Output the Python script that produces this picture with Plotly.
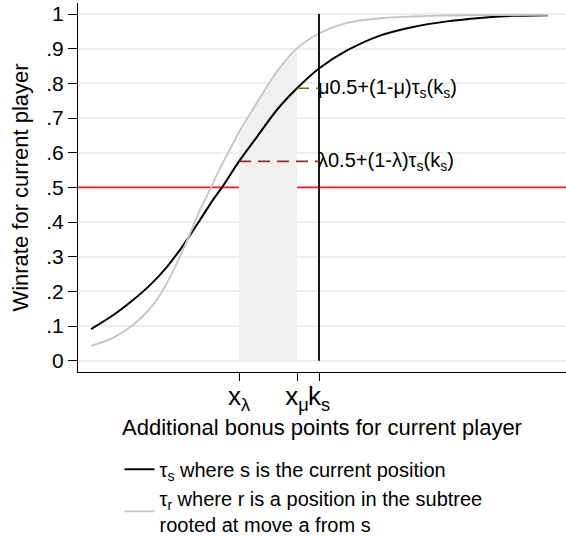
import plotly.graph_objects as go

# ---- data ----
black_x = [1.3, 3.5, 5.5, 7.2, 8.9, 10.2, 11.0, 12.2, 13.5, 14.4, 16.1, 17.9, 19.9, 21.9,
           24.1, 26.9, 30.2, 33.5, 36.9, 40.2, 43.5, 47.0]
black_y = [0.091, 0.131, 0.175, 0.218, 0.271, 0.320, 0.353, 0.406, 0.464, 0.500, 0.575, 0.646,
           0.724, 0.786, 0.843, 0.895, 0.938, 0.963, 0.979, 0.989, 0.995, 0.997]

gray_x = [1.3, 3.5, 5.5, 7.2, 8.2, 9.5, 11.0, 12.2, 13.3, 14.1, 15.2, 16.1, 17.9, 19.9,
          21.9, 24.1, 26.9, 30.2, 33.5, 36.9, 40.2, 47.0]
gray_y = [0.043, 0.066, 0.103, 0.150, 0.190, 0.258, 0.353, 0.435, 0.500, 0.550, 0.610, 0.660,
          0.745, 0.835, 0.901, 0.944, 0.975, 0.988, 0.993, 0.996, 0.997, 0.998]

x_lambda = 16.1
x_mu = 21.9
k_s = 24.1
lambda_level = 0.575
mu_level = 0.786
half = 0.5

x_range = [0, 48.8]
y_range = [-0.0326, 1.032]

y_tickvals = [0, 0.1, 0.2, 0.3, 0.4, 0.5, 0.6, 0.7, 0.8, 0.9, 1.0]
y_ticktext = ["0", ".1", ".2", ".3", ".4", ".5", ".6", ".7", ".8", ".9", "1"]
x_tickvals = [x_lambda, x_mu, k_s]
x_ticktext = ["x<sub>λ</sub>", "x<sub>μ</sub>", "k<sub>s</sub>"]

name_s = "τ<sub>s</sub> where s is the current position"
name_r = "τ<sub>r</sub> where r is a position in the subtree<br>rooted at move a from s"

FONT = "Liberation Sans, Arial, sans-serif"

fig = go.Figure()

# red reference line at 0.5
fig.add_trace(go.Scatter(x=x_range, y=[half, half], mode="lines",
                         line=dict(color="#ff1a1a", width=1.6), showlegend=False, hoverinfo="skip"))

# shaded area under the gray curve between x_lambda and x_mu
shade_x = [x for x in gray_x if x_lambda <= x <= x_mu]
shade_y = [y for x, y in zip(gray_x, gray_y) if x_lambda <= x <= x_mu]
fig.add_trace(go.Scatter(x=shade_x, y=shade_y, mode="lines", fill="tozeroy",
                         fillcolor="#f0f0f0", line=dict(width=0, shape="spline", smoothing=0.8),
                         showlegend=False, hoverinfo="skip"))

# curves
fig.add_trace(go.Scatter(x=black_x, y=black_y, mode="lines", name=name_s,
                         line=dict(color="black", width=2, shape="spline", smoothing=0.8)))
fig.add_trace(go.Scatter(x=gray_x, y=gray_y, mode="lines", name=name_r,
                         line=dict(color="#c4c4c4", width=1.8, shape="spline", smoothing=0.8)))

# vertical line at k_s
fig.add_trace(go.Scatter(x=[k_s, k_s], y=[0, 1], mode="lines",
                         line=dict(color="black", width=1.8), showlegend=False, hoverinfo="skip"))

# dashed levels
fig.add_trace(go.Scatter(x=[x_lambda, k_s], y=[lambda_level, lambda_level], mode="lines",
                         line=dict(color="#8a2f2f", width=1.6, dash="12px,7px"),
                         showlegend=False, hoverinfo="skip"))
fig.add_trace(go.Scatter(x=[x_mu, k_s], y=[mu_level, mu_level], mode="lines",
                         line=dict(color="#4f7a28", width=1.6, dash="12px,7px"),
                         showlegend=False, hoverinfo="skip"))

fig.add_annotation(x=k_s, y=lambda_level, xref="x", yref="y", showarrow=False,
                   xanchor="left", yanchor="middle", xshift=-3,
                   text="λ0.5+(1-λ)τ<sub>s</sub>(k<sub>s</sub>)", font=dict(size=20, family=FONT))
fig.add_annotation(x=k_s, y=mu_level, xref="x", yref="y", showarrow=False,
                   xanchor="left", yanchor="middle", xshift=-3,
                   text="μ0.5+(1-μ)τ<sub>s</sub>(k<sub>s</sub>)", font=dict(size=20, family=FONT))

fig.update_layout(
    width=566, height=536,
    margin=dict(l=78, r=0, t=3, b=164, autoexpand=False),
    plot_bgcolor="white", paper_bgcolor="white",
    font=dict(family=FONT, size=21, color="black"),
    legend=dict(x=0.085, y=-0.211, xanchor="left", yanchor="top",
                font=dict(size=20, family=FONT), bgcolor="rgba(0,0,0,0)",
                tracegroupgap=0, itemwidth=30, valign="middle"),
)
fig.update_xaxes(range=x_range, showgrid=False, zeroline=False, showline=True,
                 linecolor="black", linewidth=1.2, ticks="outside", ticklen=8,
                 tickcolor="black", tickwidth=1.2, tickvals=x_tickvals, ticktext=x_ticktext,
                 tickangle=0, automargin=False, ticklabelstandoff=-7,
                 tickfont=dict(size=26, family=FONT),
                 title=dict(text="Additional bonus points for current player",
                            font=dict(size=22, family=FONT), standoff=0))
fig.update_yaxes(range=y_range, showgrid=True, gridcolor="#e9eff2", gridwidth=1.5,
                 zeroline=False, showline=True, linecolor="black", linewidth=1.2,
                 ticks="outside", ticklen=9, tickcolor="black", tickwidth=1.2,
                 tickvals=y_tickvals, ticktext=y_ticktext, automargin=False,
                 tickfont=dict(size=21, family=FONT),
                 title=dict(text="Winrate for current player",
                            font=dict(size=22, family=FONT), standoff=11))

fig.write_html("out.html", config={"displayModeBar": False},
               post_script="document.body.style.margin='0';")
